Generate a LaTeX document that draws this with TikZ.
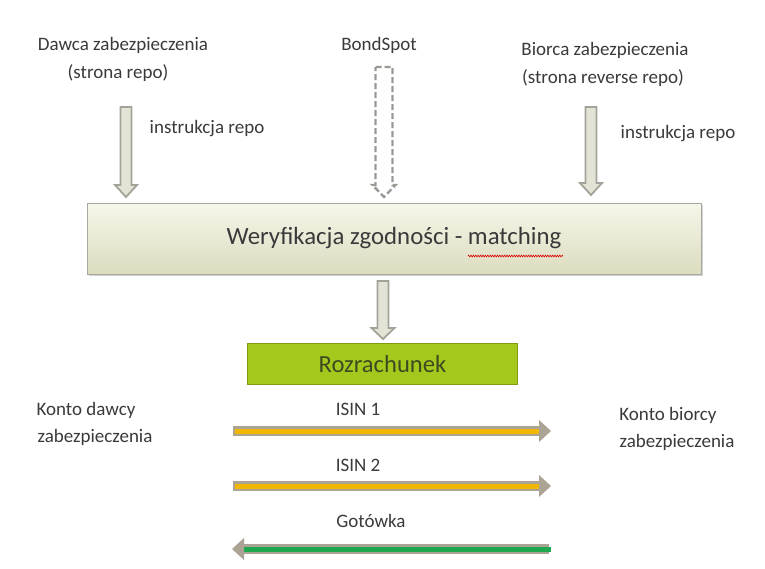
\documentclass[tikz,border=0pt]{standalone}
\usepackage{fontspec}
\setmainfont{Carlito}
\usetikzlibrary{shadows,decorations.pathmorphing}
\definecolor{txt}{HTML}{3A3A3A}
\definecolor{arrowline}{HTML}{A3A399}
\definecolor{dashline}{HTML}{9A9A94}
\definecolor{arrowfill}{HTML}{E4E4D6}
\definecolor{boxtop}{HTML}{F6F6EA}
\definecolor{boxbot}{HTML}{DCDCC0}
\definecolor{boxline}{HTML}{A8A8A0}
\definecolor{rozfill}{HTML}{A5C81C}
\definecolor{rozline}{HTML}{7F9B14}
\definecolor{roztxt}{HTML}{3E4A22}
\definecolor{isin}{HTML}{F2B705}
\definecolor{isinline}{HTML}{ABA495}
\definecolor{cash}{HTML}{1EA84E}
\tikzset{
  lbl/.style={font=\fontsize{19}{23}\selectfont, text=txt, inner sep=0pt, align=center},
  blockarrow/.style={draw=arrowline, fill=arrowfill, line width=1.8pt, line join=miter},
  dashedarrow/.style={draw=dashline, fill=white, line width=2.4pt, dash pattern=on 6pt off 3pt},
}
% #2 center x, #3 top y, #4 head start y, #5 tip y, #6 shaft half width, #7 head half width
\newcommand{\vblock}[7][blockarrow]{%
  \draw[#1] (#2-#6,#3) -- (#2+#6,#3) -- (#2+#6,#4) -- (#2+#7,#4) -- (#2,#5) -- (#2-#7,#4) -- (#2-#6,#4) -- cycle;}
\begin{document}
\begin{tikzpicture}[x=1pt,y=-1pt]
\useasboundingbox (0,0) rectangle (765,568);
\fill[white] (0,0) rectangle (765,568);

% top labels
\node[lbl] (dawca) at (123,45) {Dawca zabezpieczenia};
\node[lbl] (dawcab) at (118,73) {(strona repo)};
\node[lbl] (bond) at (379,45) {BondSpot};
\node[lbl] (biorca) at (605,50) {Biorca zabezpieczenia};
\node[lbl] (biorcab) at (603,78) {(strona reverse repo)};
\node[lbl] (instr1) at (207,129) {instrukcja repo};
\node[lbl] (instr2) at (678,134) {instrukcja repo};

% block arrows
\vblock{126}{107}{185}{197}{5.5}{11}
\vblock[dashedarrow]{384}{67}{185}{197}{8.5}{11.5}
\vblock{591}{107}{183}{195}{5.5}{11}

% main box
\node[draw=boxline, line width=0.8pt, top color=boxtop, bottom color=boxbot,
      drop shadow={shadow xshift=1.5pt, shadow yshift=-1.5pt, opacity=0.35},
      minimum width=614pt, minimum height=71pt, inner sep=0pt,
      font=\fontsize{24.8}{28}\selectfont, text=txt] (weryf) at (394,238.5)
      {Weryfikacja zgodności - matching};
\draw[red!85!black, line width=0.6pt, decorate,
      decoration={zigzag, amplitude=0.9pt, segment length=2.4pt}]
      (468,256) -- (563,256);

% arrow down
\vblock{383}{281}{328}{339}{5.5}{11.5}

% Rozrachunek
\node[draw=rozline, line width=1.6pt, fill=rozfill, minimum width=270pt, minimum height=41pt,
      inner sep=0pt, font=\fontsize{24.6}{28}\selectfont, text=roztxt] (roz) at (382.5,364) {Rozrachunek};

% bottom labels
\node[lbl] (kd1) at (86,410) {Konto dawcy};
\node[lbl] (kd2) at (95,437) {zabezpieczenia};
\node[lbl] (kb1) at (668,415) {Konto biorcy};
\node[lbl] (kb2) at (677,442) {zabezpieczenia};
\node[lbl] (isin1) at (358,409) {ISIN 1};
\node[lbl] (isin2) at (358,465) {ISIN 2};
\node[lbl] (got) at (371,521) {Gotówka};

% flow arrows
\coordinate (a1s) at (233,431); \coordinate (a1e) at (539,431);
\coordinate (a2s) at (233,486); \coordinate (a2e) at (539,486);
\coordinate (a3s) at (549,549); \coordinate (a3e) at (244,549);
\foreach \s/\e/\c in {a1s/a1e/isin, a2s/a2e/isin, a3s/a3e/cash}{
  \draw[line width=9.5pt, isinline] (\s) -- (\e);
  \draw[line width=5pt, \c] ([xshift=\ifx\c cash -2pt\else 2pt\fi]\s) -- (\e);
}
\fill[isinline] (a1e) ++(0,-11) -- ++(12,11) -- ++(-12,11) -- cycle;
\fill[isinline] (a2e) ++(0,-11) -- ++(12,11) -- ++(-12,11) -- cycle;
\fill[isinline] (a3e) ++(0,-11) -- ++(-12,11) -- ++(12,11) -- cycle;
\end{tikzpicture}
\end{document}
